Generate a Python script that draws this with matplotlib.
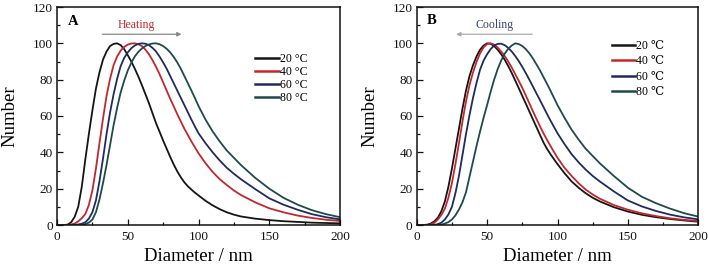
import matplotlib
matplotlib.use("Agg")
import matplotlib.pyplot as plt
from matplotlib.ticker import MultipleLocator

plt.rcParams['font.family'] = ['Liberation Serif', 'DejaVu Serif']

diameter = [0, 2.5, 5, 7.5, 10, 12.5, 15, 17.5, 20, 22.5, 25, 27.5, 30, 32.5, 35, 37.5, 40, 42.5,
            45, 47.5, 50, 52.5, 55, 57.5, 60, 62.5, 65, 67.5, 70, 72.5, 75, 77.5, 80, 82.5, 85,
            87.5, 90, 92.5, 95, 97.5, 100,
            105, 110, 115, 120, 125, 130, 140, 150, 160, 170, 180, 190, 200]

# Panel A (heating)
heat_20 = [0, 0, 0, 0.2, 1.5, 4.5, 10, 21, 36, 50, 63, 75, 84, 91, 95.5, 98.5, 99.7, 100,
           99, 96.8, 93.5, 90, 86, 81.7, 77, 72, 67, 61.5, 56, 51.3, 46.5, 42, 37.5, 33.3, 29.5,
           26.3, 23.5, 21.3, 19.5, 17.8, 16.3,
           13.3, 10.8, 8.7, 7, 5.7, 4.7, 3.5, 2.7, 2.1, 1.7, 1.3, 1.1, 0.9]
heat_40 = [0, 0, 0, 0, 0.3, 0.8, 2, 3.7, 6, 11, 19, 31, 45, 58.5, 71, 80.5, 88, 92.8,
           96, 98, 99.3, 99.9, 100, 99.5, 98.5, 96.5, 94, 90.7, 87, 83, 78.5, 74, 69.5, 65.3, 61,
           57, 53, 49.5, 46, 42.7, 39.5,
           34, 29.2, 25.2, 22, 19, 16.5, 12.5, 9.2, 7, 5.2, 3.9, 2.9, 2.2]
heat_60 = [0, 0, 0, 0, 0, 0, 0.3, 0.7, 1.5, 3.5, 7, 13.5, 24, 36.5, 50, 62, 72, 80.5,
           87.5, 92, 95, 97.3, 98.8, 99.7, 100, 99.8, 99, 97.5, 95.5, 92.7, 89.5, 86, 82, 78, 74,
           70, 66, 62, 58, 54.2, 50.5,
           45, 40, 35.5, 31.5, 28.2, 25.2, 19.8, 14.7, 11.2, 8.4, 6, 4.3, 3.1]
heat_80 = [0, 0, 0, 0, 0, 0, 0, 0.1, 0.5, 1.3, 3, 7, 14, 23, 33, 44, 55, 64.5,
           73, 79.5, 85, 89.3, 92.8, 95.3, 97.2, 98.5, 99.4, 99.9, 100, 99.5, 98.5, 97, 95, 92.5, 89.5,
           86, 82, 78, 74, 69.8, 65.5,
           58, 51.5, 46, 41, 37, 33, 26, 20, 15, 11.2, 8.2, 6, 4.3]

# Panel B (cooling)
cool_20 = [0, 0, 0, 0.2, 0.8, 2, 4, 7.5, 13, 21, 31, 42, 53, 64, 74, 82, 88, 92.8,
           96.5, 98.8, 100, 99.8, 98.5, 96.5, 94, 91, 87.5, 83.7, 79.5, 75.3, 71, 66.8, 62.5, 58.2, 54,
           49.7, 45.5, 42, 39, 36.2, 33.5,
           28.5, 24, 20.5, 17.5, 15, 13, 9.8, 7.4, 5.6, 4.3, 3.3, 2.5, 1.8]
cool_40 = [0, 0, 0, 0, 0.3, 1.2, 3, 5.5, 9, 15, 23, 33.5, 45, 57, 68, 77, 84, 89.8,
           94.5, 97.8, 99.6, 100, 99.3, 97.7, 95.5, 93, 90, 86.7, 83, 79.3, 75.5, 71.3, 67, 62.7, 58.5,
           54.5, 50.5, 47, 43.5, 40.2, 37,
           31.5, 27, 23, 19.5, 16.8, 14.5, 11, 8.4, 6.4, 4.9, 3.7, 2.8, 2.2]
cool_60 = [0, 0, 0, 0, 0, 0, 0.5, 1.3, 3, 5.8, 10, 17.5, 27, 38.5, 50, 60.5, 70, 78.3,
           85.5, 90.5, 94, 96.8, 98.8, 99.7, 99.8, 99, 97.5, 95.5, 93, 90.2, 87, 83.6, 80, 76.3, 72.5,
           68.8, 65, 61.2, 57.5, 54, 50.5,
           44.5, 39, 34.5, 30.5, 27, 24, 18.5, 13.5, 10.2, 7.7, 5.7, 4.2, 3.1]
cool_80 = [0, 0, 0, 0, 0, 0, 0, 0.2, 0.8, 1.6, 3, 5.3, 8.5, 12.5, 18, 26.5, 35, 43.5,
           51.5, 59, 66, 73.3, 80, 85.8, 90.5, 94.3, 97, 98.8, 100, 99.6, 98.5, 96.8, 94.5, 91.7, 88.5,
           85.2, 81.5, 77.8, 74, 70, 66,
           59, 52.5, 47, 42, 38, 34, 27, 20.5, 15.5, 12, 9, 6.5, 4.6]

labels_a = ['20 °C', '40 °C', '60 °C', '80 °C']
labels_b = ['20 ℃', '40 ℃', '60 ℃', '80 ℃']
colors = ['#151515', '#c0282d', '#202a60', '#1d4a4c']

fig = plt.figure(figsize=(7.09, 2.70), dpi=100)
axA = fig.add_axes([57/709, 45/270, 283/709, 218/270])
axB = fig.add_axes([416.7/709, 45/270, 281.6/709, 218/270])


def style(ax):
    ax.set_xlim(0, 200)
    ax.set_ylim(0, 120)
    ax.xaxis.set_major_locator(MultipleLocator(50))
    ax.xaxis.set_minor_locator(MultipleLocator(25))
    ax.yaxis.set_major_locator(MultipleLocator(20))
    ax.yaxis.set_minor_locator(MultipleLocator(10))
    ax.tick_params(which='both', direction='in', top=False, right=False, labelsize=9.5,
                   width=0.9, colors='#111111')
    ax.tick_params(which='major', length=4)
    ax.tick_params(which='minor', length=2)
    ax.tick_params(axis='x', pad=4)
    ax.tick_params(axis='y', pad=3)
    for s in ax.spines.values():
        s.set_linewidth(1.1)
        s.set_color('#111111')
    ax.set_xlabel('Diameter / nm', fontsize=13.5, labelpad=4)
    ax.set_ylabel('Number', fontsize=13.5, labelpad=10)


for ax, series, labels in [(axA, [heat_20, heat_40, heat_60, heat_80], labels_a),
                           (axB, [cool_20, cool_40, cool_60, cool_80], labels_b)]:
    for vals, c, lab in zip(series, colors, labels):
        ax.plot(diameter, vals, color=c, lw=1.3, label=lab)
    style(ax)

legA = axA.legend(loc='upper left', bbox_to_anchor=(0.70, 0.79), frameon=False, fontsize=8.5,
                  handlelength=2.0, handletextpad=0.1, labelspacing=0.1, borderpad=0, borderaxespad=0)
legB = axB.legend(loc='upper left', bbox_to_anchor=(0.692, 0.85), frameon=False, fontsize=8.5,
                  handlelength=2.0, handletextpad=0.1, labelspacing=0.3, borderpad=0, borderaxespad=0)
for leg in (legA, legB):
    for line in leg.get_lines():
        line.set_linewidth(1.8)

axA.text(0.057, 0.935, 'A', transform=axA.transAxes, fontsize=10.5, fontweight='bold',
         ha='center', va='center')
axB.text(0.053, 0.94, 'B', transform=axB.transAxes, fontsize=10.5, fontweight='bold',
         ha='center', va='center')

axA.text(56, 110, 'Heating', color='#c0282d', fontsize=8.5, ha='center', va='center')
axA.annotate('', xy=(88, 105), xytext=(32, 105),
             arrowprops=dict(arrowstyle='-|>', color='#888888', lw=0.9,
                             mutation_scale=6, shrinkA=0, shrinkB=0))
axB.text(55, 110, 'Cooling', color='#3a4578', fontsize=8.5, ha='center', va='center')
axB.annotate('', xy=(28, 105), xytext=(82, 105),
             arrowprops=dict(arrowstyle='-|>', color='#aaaaaa', lw=0.9,
                             mutation_scale=6, shrinkA=0, shrinkB=0))

fig.savefig('out.png', dpi=100)
